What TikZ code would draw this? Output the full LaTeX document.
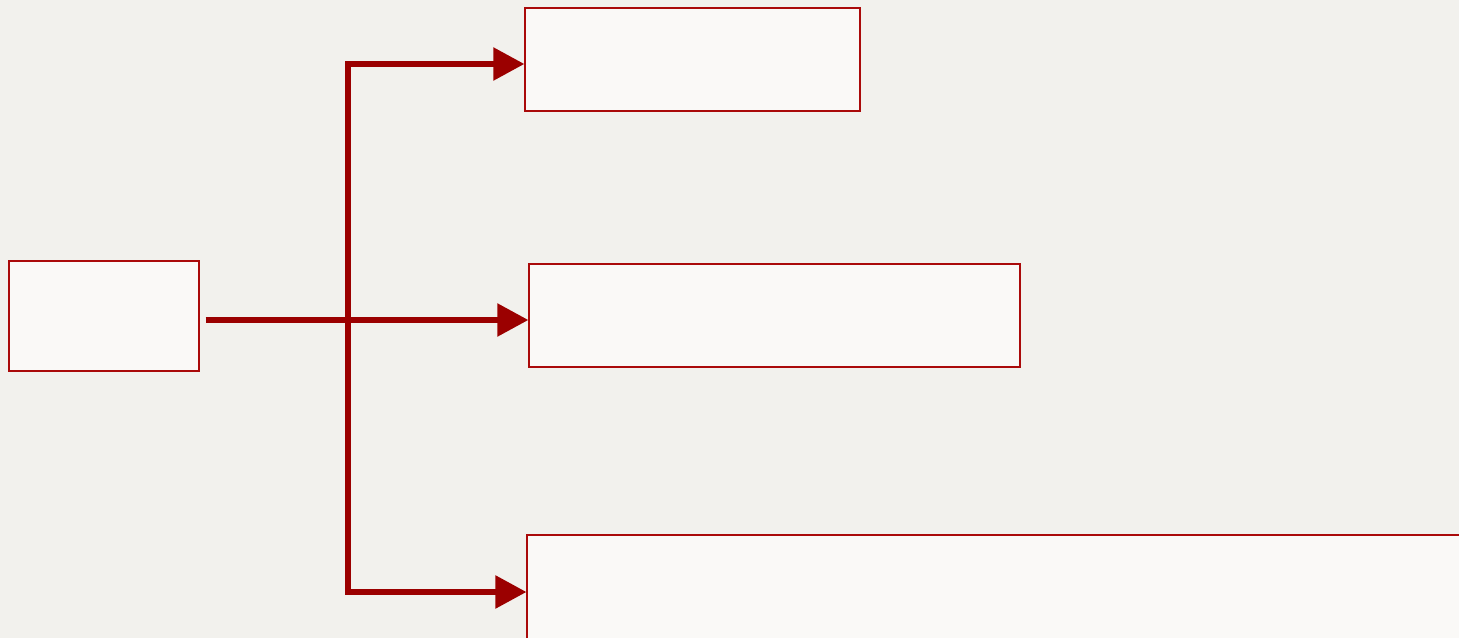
\documentclass[tikz,border=0pt]{standalone}
\usepackage{xcolor}
\usepackage{tikz}
\usetikzlibrary{arrows.meta, positioning, calc}
\definecolor{colBg}{RGB}{242,241,237}
\definecolor{colBox}{RGB}{250,249,247}
\definecolor{colEdge}{RGB}{170,10,10}
\definecolor{colArr}{RGB}{155,0,0}
\tikzset{
  block/.style={
    draw=colEdge, rectangle, fill=colBox, line width=0.8pt,
    inner sep=0pt
  },
  branch/.style={
    draw=colArr, -{Triangle[length=0.62cm, width=0.64cm]}, line width=0.11cm
  },
}
\begin{document}
\begin{tikzpicture}[x=0.02cm, y=-0.02cm]

% ── Canvas ──────────────────────────────────────────────────────────────────
\fill[colBg] (0,0) rectangle (1459,638);
\useasboundingbox (0,0) rectangle (1459,638);
\clip (0,0) rectangle (1459,638);

% ── Nodes ──────────────────────────────────────────────────────────────────
\node[block, minimum width=3.8cm,  minimum height=2.2cm]  (root)   at (104,316)   {};
\node[block, minimum width=6.7cm,  minimum height=2.06cm] (upper)  at (692.5,59.5) {};
\node[block, minimum width=9.82cm, minimum height=2.06cm] (middle) at (774.5,315.5) {};
\node[block, minimum width=24cm,   minimum height=2.28cm] (lower)  at (1127,592) {};

% trunk of the fork
\coordinate (trunk) at (348,320);

% ── Flows ───────────────────────────────────────────────────────────────────
% root → middle
\draw[branch, shorten <=0.12cm] (root.east |- trunk) -- (trunk -| middle.west);

% trunk → upper
\draw[branch] (trunk) |- ([yshift=-0.09cm]upper.west);

% trunk → lower
\draw[branch] (trunk) |- (lower.west);

\end{tikzpicture}
\end{document}
